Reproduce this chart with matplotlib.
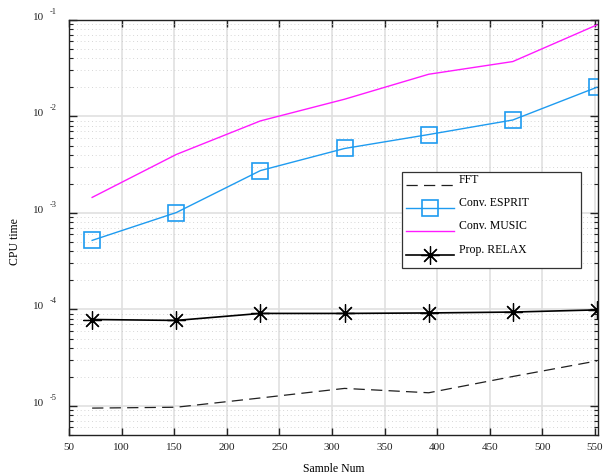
import math
import matplotlib
matplotlib.use("Agg")
import matplotlib.pyplot as plt
import matplotlib.transforms as mtrans
from matplotlib.patches import Rectangle
from matplotlib.ticker import FixedLocator, FuncFormatter, LogLocator, NullFormatter

plt.rcParams['font.family'] = ['Liberation Serif', 'DejaVu Serif']

# -----------------------------
# Data
# -----------------------------
sample_num = [72, 152, 232, 312, 392, 472, 552]
fft_time = [9.5e-6, 9.7e-6, 1.21e-5, 1.52e-5, 1.37e-5, 2.02e-5, 2.93e-5]
esprit_time = [5.2e-4, 1.01e-3, 2.75e-3, 4.66e-3, 6.5e-3, 9.2e-3, 2.01e-2]
music_time = [1.45e-3, 4.04e-3, 9.0e-3, 1.51e-2, 2.74e-2, 3.71e-2, 8.9e-2]
relax_time = [7.87e-5, 7.7e-5, 9.1e-5, 9.1e-5, 9.2e-5, 9.4e-5, 9.9e-5]

x_ticks = [50, 100, 150, 200, 250, 300, 350, 400, 450, 500, 550]
y_decades = [1e-5, 1e-4, 1e-3, 1e-2, 1e-1]
legend_labels = ['FFT', 'Conv. ESPRIT', 'Conv. MUSIC', 'Prop. RELAX']

W, H = 606, 472
fig = plt.figure(figsize=(W / 100, H / 100), dpi=100)
ax = fig.add_axes([69 / W, 1 - 435 / H, 529 / W, 415 / H])

l_fft, = ax.plot(sample_num, fft_time, color='#202020', lw=0.9,
                 dashes=(9, 5))
l_esp, = ax.plot(sample_num, esprit_time, color='#1e9bf0', lw=1.0,
                 marker='s', ms=11.5, mfc='none', mec='#1e9bf0', mew=1.2)
l_mus, = ax.plot(sample_num, music_time, color='#ff1aff', lw=1.0)
l_rel, = ax.plot(sample_num, relax_time, color='black', lw=1.2,
                 marker=(8, 2, 0), ms=13, mew=0.9)
d_rel, = ax.plot(sample_num, relax_time, ls='none', color='black',
                 marker='o', ms=2.5)

ax.set_yscale('log')
ax.set_xlim(50, 553)
ax.set_ylim(5e-6, 1e-1)

ax.xaxis.set_major_locator(FixedLocator(x_ticks))
ax.yaxis.set_major_locator(FixedLocator(y_decades))
ax.yaxis.set_minor_locator(LogLocator(base=10, subs=range(2, 10)))
ax.yaxis.set_minor_formatter(NullFormatter())
# base only; the exponent is written as a separate small text below
ax.yaxis.set_major_formatter(FuncFormatter(lambda v, pos: '10'))

ax.tick_params(axis='both', which='both', direction='in', top=True,
               right=True, labelsize=8, colors='#222222')
ax.tick_params(axis='x', which='major', length=5, width=1, pad=6)
ax.tick_params(axis='y', which='major', length=6, width=1, pad=18)
ax.tick_params(axis='y', which='minor', length=3, width=0.8)
for lab in ax.get_yticklabels():
    lab.set_va('baseline')

# exponents, MATLAB style: raised and set apart from the "10"
exp_tr = mtrans.offset_copy(ax.get_yaxis_transform(), fig=fig, x=0, y=6,
                            units='dots')
for d in y_decades:
    ax.text(-0.036, d, '%d' % round(math.log10(d)), transform=exp_tr,
            ha='left', va='baseline', fontsize=6, color='#222222')

ax.grid(True, which='major', color='#e0e0e0', lw=1.2, ls='-')
ax.grid(True, which='minor', axis='y', color='#c8c8c8', lw=0.6,
        ls=(0, (1, 3.5)))
ax.set_axisbelow(True)

for sp in ax.spines.values():
    sp.set_linewidth(1.0)
    sp.set_color('#222222')

ax.text(-0.103, 0.467, 'CPU time', rotation=90, transform=ax.transAxes,
        ha='center', va='center', fontsize=8.5)
ax.text(0.5, -0.068, 'Sample Num', transform=ax.transAxes,
        ha='center', va='top', fontsize=8.5)

# legend box drawn as a plain rectangle, MATLAB style
box = Rectangle(((402 - 69) / 529, (435 - 268) / 415), 179 / 529, 96 / 415,
                transform=ax.transAxes, facecolor='white', edgecolor='#333333',
                lw=0.9, zorder=4.8)
ax.add_patch(box)

leg = ax.legend([l_fft, l_esp, l_mus, (l_rel, d_rel)], legend_labels,
                loc='upper left',
                bbox_to_anchor=((406 - 69) / 529, (435 - 180) / 415),
                fontsize=8.5, handlelength=4.1, handletextpad=0.35,
                labelspacing=0.95, borderpad=0, borderaxespad=0,
                frameon=False)
leg.set_zorder(5)
# lift each label a few pixels above its line sample
for t in leg.get_texts():
    t.set_y(6)

fig.savefig('out.png', dpi=100)
